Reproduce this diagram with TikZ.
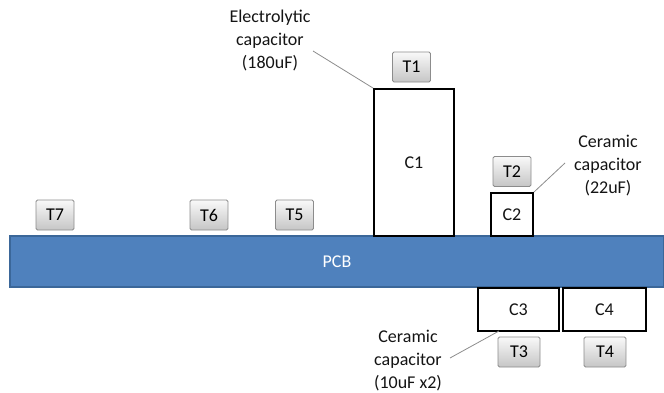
\documentclass[tikz,border=0pt]{standalone}
\usepackage{fontspec}
\setmainfont{Carlito}
\usetikzlibrary{calc}
\definecolor{pcbblue}{HTML}{4F81BD}
\definecolor{pcbedge}{HTML}{3B6799}
\definecolor{textgray}{HTML}{141414}
\definecolor{leadgray}{HTML}{8C8C8C}

\begin{document}
\begin{tikzpicture}[x=1pt, y=-1pt,
  every node/.style={font=\fontsize{18}{23}\selectfont, text=textgray},
  capbox/.style={draw=black, line width=1.8pt, fill=white, inner sep=0pt},
  tagbox/.style={draw=gray!90, line width=0.8pt, top color=gray!5, bottom color=gray!45,
    rounded corners=1.5pt, minimum width=38pt, minimum height=30pt, inner sep=0pt, text=black},
  note/.style={align=center},
  leader/.style={leadgray, line width=0.8pt}]

  \useasboundingbox (0,0) rectangle (664,392);

  % Board
  \node[draw=pcbedge, line width=1.2pt, fill=pcbblue, text=white, minimum width=654pt,
    minimum height=51pt, inner sep=0pt] (pcb) at (337, 261.5) {PCB};

  % Capacitors on top and bottom side
  \node[capbox, minimum width=80pt, minimum height=147pt] (c1) at (414, 162.5) {C1};
  \node[capbox, minimum width=42pt, minimum height=43pt] (c2) at (512, 214.5) {C2};
  \node[capbox, minimum width=81pt, minimum height=43pt] (c3) at (518.5, 309.5) {C3};
  \node[capbox, minimum width=83pt, minimum height=43pt] (c4) at (604.5, 309.5) {C4};

  % Temperature tags
  \foreach \tname/\tx/\ty in {7/55/215, 6/209/215, 5/294.5/215, 1/411.5/67, 2/512/171.5} {
    \node[tagbox] (t\tname) at (\tx, \ty) {T\tname};
  }
  \foreach \tname/\tx/\ty in {3/519/352, 4/605/352} {
    \node[tagbox, minimum width=42pt] (t\tname) at (\tx, \ty) {T\tname};
  }

  % Annotations
  \node[note] (elcap) at (270, 40) {Electrolytic\\capacitor\\(180uF)};
  \node[note] (cer22) at (608, 166) {Ceramic\\capacitor\\(22uF)};
  \node[note] (cer10) at (408, 361) {Ceramic\\capacitor\\(10uF x2)};

  \coordinate (elfoot) at (313, 51);
  \coordinate (c22foot) at (565, 163);
  \coordinate (c10foot) at (450, 358);
  \coordinate (c3tip) at (499, 331);
  \draw[leader] (elfoot) -- (c1.north west);
  \draw[leader] (c22foot) -- (c2.north east);
  \draw[leader] (c10foot) -- (c3tip);

\end{tikzpicture}
\end{document}
